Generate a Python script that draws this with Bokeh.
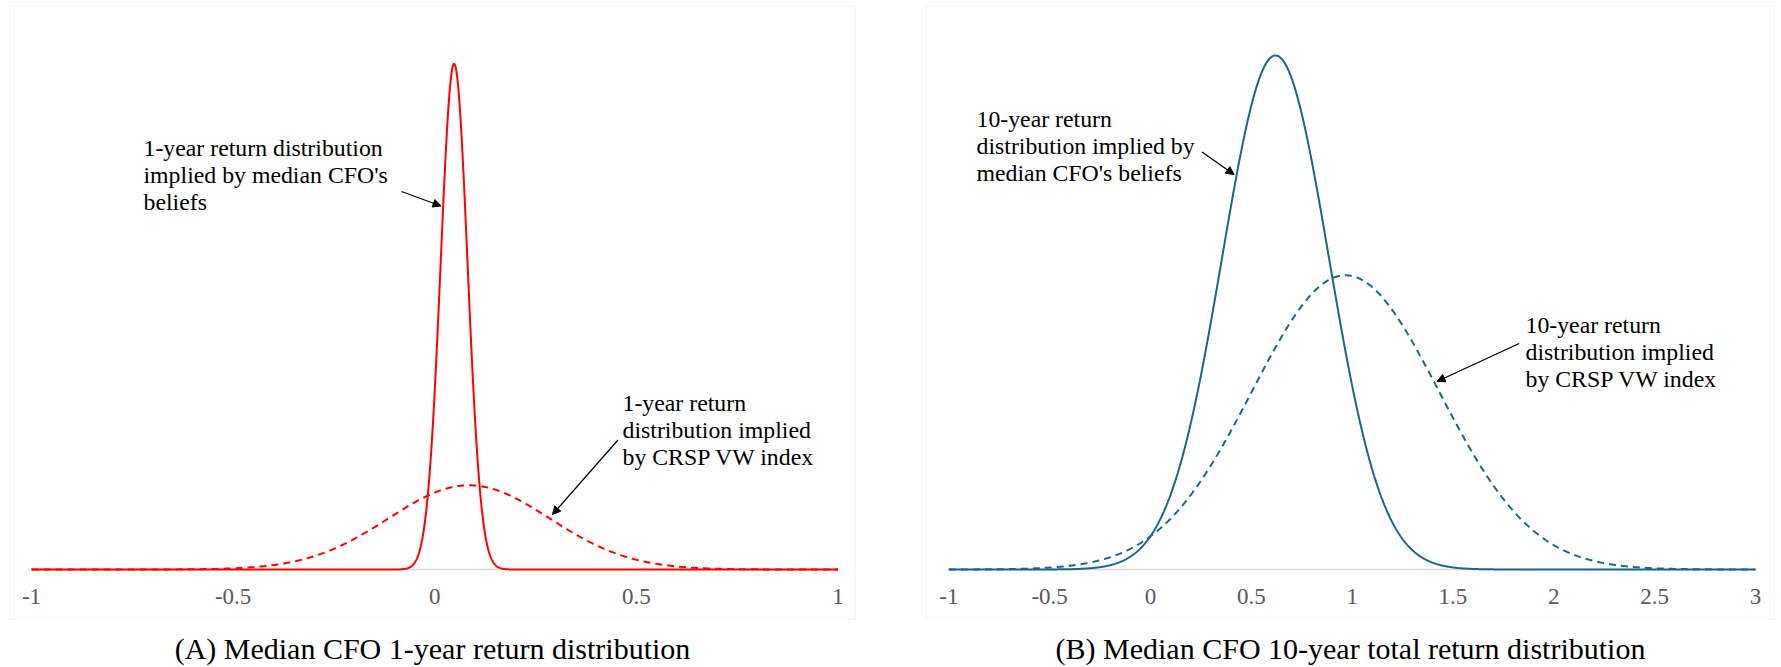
import numpy as np
from bokeh.plotting import figure
from bokeh.models import LinearAxis, FixedTicker, Label, Arrow, NormalHead, Range1d, BoxAnnotation
from bokeh.layouts import row
from bokeh.embed import file_html
from bokeh.resources import INLINE

# ---- data (normal distributions: mean, sd) ----
series_names = ["Median CFO's beliefs", "CRSP VW index"]
one_year_mean = [0.048, 0.085]
one_year_sd = [0.0333, 0.200]
ten_year_mean = [0.620, 0.967]
ten_year_sd = [0.265, 0.463]

one_year_ticks = [-1, -0.5, 0, 0.5, 1]
one_year_tick_labels = ["-1", "-0.5", "0", "0.5", "1"]
ten_year_ticks = [-1, -0.5, 0, 0.5, 1, 1.5, 2, 2.5, 3]
ten_year_tick_labels = ["-1", "-0.5", "0", "0.5", "1", "1.5", "2", "2.5", "3"]

caption_a = "(A) Median CFO 1-year return distribution"
caption_b = "(B) Median CFO 10-year total return distribution"
label_a_cfo = ["1-year return distribution", "implied by median CFO's", "beliefs"]
label_a_crsp = ["1-year return", "distribution implied", "by CRSP VW index"]
label_b_cfo = ["10-year return", "distribution implied by", "median CFO's beliefs"]
label_b_crsp = ["10-year return", "distribution implied", "by CRSP VW index"]

RED = "#FF0000"
BLUE = "#1B6589"
SERIF = "Liberation Serif"
H = 667
BOX_TOP, BOX_BOTTOM, BASE = 6, 619, 569


def pdf(x, m, s):
    return np.exp(-0.5 * ((x - m) / s) ** 2) / (s * np.sqrt(2 * np.pi))


def make_panel(canvas_left, width, box_left, box_right, px_lo, px_hi, ticks, tick_labels,
               means, sds, color, peak_py, caption):
    # page-pixel geometry -> data ranges (plot frame fills the whole canvas)
    t0, t1 = ticks[0], ticks[-1]
    ppu = (px_hi - px_lo) / (t1 - t0)
    xs = t0 + (canvas_left - px_lo) / ppu
    xe = t0 + (canvas_left + width - px_lo) / ppu
    peak = pdf(means[0], means[0], sds[0])
    k = (BASE - peak_py) / peak
    ys = -(H - BASE) / k
    ye = BASE / k

    def to_data(px, py):
        return (t0 + (px - px_lo) / ppu, (BASE - py) / k)

    p = figure(width=width, height=H, output_backend="svg", toolbar_location=None,
               x_range=Range1d(xs, xe), y_range=Range1d(ys, ye),
               x_axis_location=None, y_axis_location=None,
               min_border=0)
    p.grid.visible = False
    p.outline_line_color = None
    p.background_fill_color = "white"
    p.border_fill_color = "white"

    bl, bt = to_data(box_left, BOX_TOP)
    br, bb = to_data(box_right, BOX_BOTTOM)
    p.add_layout(BoxAnnotation(left=bl, right=br, top=bt, bottom=bb, fill_color=None,
                               line_color="#D9D9D9", line_width=1, level="underlay"))

    ax = LinearAxis(fixed_location=0, ticker=FixedTicker(ticks=ticks),
                    major_label_overrides={t: l for t, l in zip(ticks, tick_labels)},
                    bounds=(t0, t1))
    ax.axis_line_color = "#D9D9D9"
    ax.axis_line_width = 1.5
    ax.major_tick_line_color = None
    ax.minor_tick_line_color = None
    ax.major_tick_out = 0
    ax.major_tick_in = 0
    ax.major_label_text_font = SERIF
    ax.major_label_text_font_size = "23px"
    ax.major_label_text_color = "#595959"
    ax.major_label_standoff = 19
    ax.level = "underlay"
    p.add_layout(ax, "below")

    x = np.linspace(t0, t1, 2001)
    p.line(x, pdf(x, means[1], sds[1]), line_color=color, line_width=2, line_dash="7 5")
    p.line(x, pdf(x, means[0], sds[0]), line_color=color, line_width=2)

    cx, cy = to_data((box_left + box_right) / 2, 648)
    p.add_layout(Label(x=cx, y=cy, text=caption, text_align="center", text_baseline="middle",
                       text_font=SERIF, text_font_size="30px", text_color="black"))
    return p, to_data


def add_text(p, to_data, lines, left_px, first_base_px, step=27.0):
    for i, line in enumerate(lines):
        x, y = to_data(left_px, first_base_px + i * step)
        p.add_layout(Label(x=x, y=y, text=line, text_baseline="alphabetic", text_align="left",
                           text_font=SERIF, text_font_size="23.8px", text_color="black"))


def add_arrow(p, to_data, a, b):
    x0, y0 = to_data(*a)
    x1, y1 = to_data(*b)
    p.add_layout(Arrow(end=NormalHead(size=8, fill_color="black", line_color="black"),
                       x_start=x0, y_start=y0, x_end=x1, y_end=y1,
                       line_color="black", line_width=1.3))


pa, da = make_panel(0, 890, 9, 855, 31, 837.5, one_year_ticks, one_year_tick_labels,
                    one_year_mean, one_year_sd, RED, 63.3, caption_a)
add_text(pa, da, label_a_cfo, 143, 147)
add_arrow(pa, da, (401, 191), (440.5, 205.5))
add_text(pa, da, label_a_crsp, 622, 402)
add_arrow(pa, da, (617.5, 439.5), (552, 514))

pb, db = make_panel(890, 891, 926, 1774, 948.3, 1755, ten_year_ticks, ten_year_tick_labels,
                    ten_year_mean, ten_year_sd, BLUE, 55, caption_b)
add_text(pb, db, label_b_cfo, 976, 118)
add_arrow(pb, db, (1201.5, 151.5), (1233.6, 174))
add_text(pb, db, label_b_crsp, 1525, 324)
add_arrow(pb, db, (1518.6, 343), (1436.5, 381))

layout = row(pa, pb)
open("out.html", "w").write(file_html(layout, INLINE))
